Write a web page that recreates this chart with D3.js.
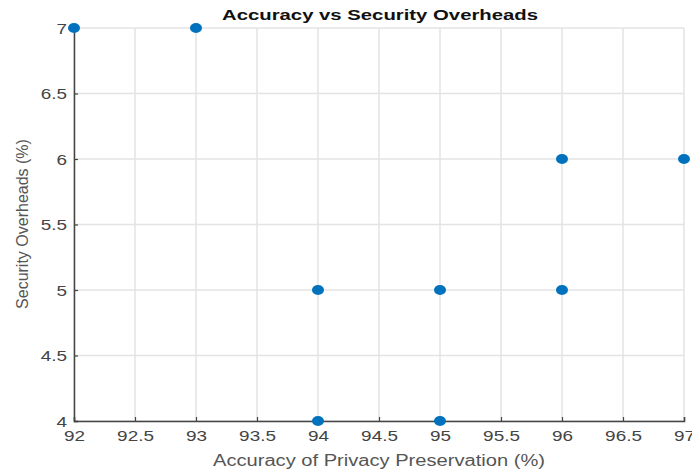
<!DOCTYPE html>
<html><head><meta charset="utf-8">
<script src="https://cdn.jsdelivr.net/npm/d3@7"></script>
<style>body{margin:0;background:#fff}svg{display:block;font-family:"Liberation Sans",Arial,sans-serif}</style>
</head><body><svg id="c" width="692" height="470"></svg>
<script>
const accuracy = [92, 93, 94, 94, 95, 95, 96, 96, 97];
const overhead = [7, 7, 5, 4, 5, 4, 6, 5, 6];
const xTicks = [92, 92.5, 93, 93.5, 94, 94.5, 95, 95.5, 96, 96.5, 97];
const yTicks = [4, 4.5, 5, 5.5, 6, 6.5, 7];

const svg = d3.select("#c");
const L = 74, R = 684, T = 28, B = 421;
const x = d3.scaleLinear().domain([92, 97]).range([L, R]);
const y = d3.scaleLinear().domain([4, 7]).range([B, T]);

function stretch(sel, k) {
  sel.each(function () {
    const w = this.getComputedTextLength();
    d3.select(this).attr("textLength", w * k).attr("lengthAdjust", "spacingAndGlyphs");
  });
}

// grid
svg.append("g").selectAll("line").data(xTicks).join("line")
  .attr("x1", d => x(d)).attr("x2", d => x(d)).attr("y1", T).attr("y2", B)
  .attr("stroke", "#e3e3e3").attr("stroke-width", 1.5);
svg.append("g").selectAll("line").data(yTicks).join("line")
  .attr("y1", d => y(d)).attr("y2", d => y(d)).attr("x1", L).attr("x2", R)
  .attr("stroke", "#e3e3e3").attr("stroke-width", 1.5);

// axes
const xa = svg.append("g").attr("transform", `translate(0,${B})`)
  .call(d3.axisBottom(x).tickValues(xTicks).tickSize(-4).tickPadding(9).tickFormat(d3.format("")));
const ya = svg.append("g").attr("transform", `translate(${L},0)`)
  .call(d3.axisLeft(y).tickValues(yTicks).tickSize(-4).tickPadding(7).tickFormat(d3.format("")));
[xa, ya].forEach(a => {
  a.select(".domain").attr("stroke", "#444").attr("stroke-width", 1.5);
  a.selectAll(".tick line").attr("stroke", "#444").attr("stroke-width", 1.2);
  a.selectAll("text").attr("fill", "#444").style("font-size", "15.5px").style("font-family", "Liberation Sans, Arial, sans-serif");
});
xa.selectAll("text").attr("dy", "0.72em");
ya.selectAll("text").attr("dy", "0.35em");
stretch(xa.selectAll("text"), 1.22);
stretch(ya.selectAll("text"), 1.22);

// points
svg.append("g").selectAll("ellipse").data(accuracy.map((a, i) => [a, overhead[i]])).join("ellipse")
  .attr("cx", d => x(d[0])).attr("cy", d => y(d[1])).attr("rx", 6).attr("ry", 5)
  .attr("fill", "#0072bd");

// title
svg.append("text").attr("x", 380).attr("y", 20).attr("text-anchor", "middle")
  .attr("font-weight", "bold").attr("font-size", "15.5px").attr("fill", "#111")
  .attr("textLength", 316).attr("lengthAdjust", "spacingAndGlyphs")
  .text("Accuracy vs Security Overheads");

// axis labels
svg.append("text").attr("x", 379).attr("y", 466).attr("text-anchor", "middle")
  .attr("font-size", "16px").attr("fill", "#555")
  .attr("textLength", 332).attr("lengthAdjust", "spacingAndGlyphs")
  .text("Accuracy of Privacy Preservation (%)");
svg.append("text").attr("transform", `translate(28,${(T + B) / 2 - 0.5}) rotate(-90)`).attr("text-anchor", "middle")
  .attr("font-size", "16px").attr("fill", "#555").text("Security Overheads (%)");
</script></body></html>
